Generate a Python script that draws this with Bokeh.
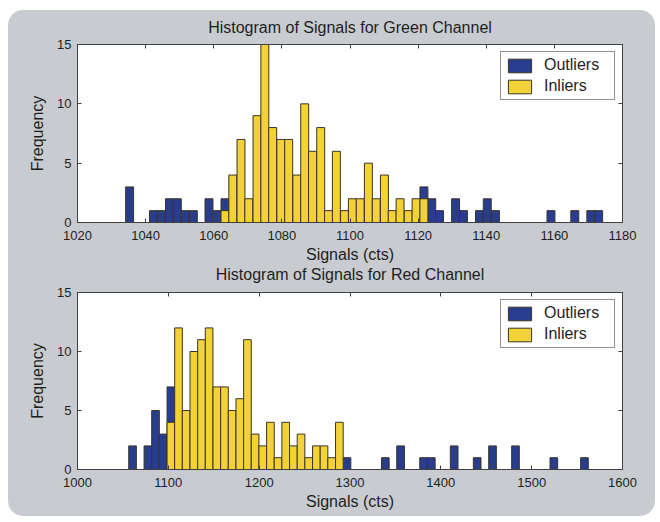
from bokeh.plotting import figure
from bokeh.models import LinearAxis, Range1d
from bokeh.layouts import column
from bokeh.embed import file_html
from bokeh.resources import INLINE

# ---------------- data ----------------
green_out_x = [1035.3, 1042.3, 1044.6, 1047.0, 1049.3, 1051.6, 1054.0, 1058.6, 1061.0, 1063.3,
               1121.7, 1124.0, 1126.3, 1131.0, 1133.3, 1138.0, 1140.3, 1142.7, 1159.0, 1166.0,
               1170.7, 1173.0]
green_out_n = [3, 1, 1, 2, 2, 1, 1, 2, 1, 2,
               3, 2, 1, 2, 1, 1, 2, 1, 1, 1,
               1, 1]
green_in_x = [1063.3, 1065.6, 1068.0, 1070.3, 1072.7, 1075.0, 1077.3, 1079.7, 1082.0, 1084.4,
              1086.7, 1089.0, 1091.4, 1093.7, 1096.0, 1098.4, 1100.7, 1103.0, 1105.4, 1107.7,
              1110.1, 1112.4, 1114.7, 1117.1, 1119.4, 1121.7]
green_in_n = [1, 4, 7, 2, 9, 15, 8, 7, 7, 4,
              10, 6, 8, 1, 6, 1, 2, 2, 5, 2,
              4, 1, 2, 1, 2, 2]

red_out_x = [1060.6, 1077.5, 1085.9, 1094.3, 1102.8, 1296.7, 1338.9, 1355.7, 1381.0, 1389.5,
             1414.7, 1440.0, 1456.9, 1482.2, 1524.4, 1558.1]
red_out_n = [2, 2, 5, 3, 7, 1, 1, 2, 1, 1,
             2, 1, 2, 2, 1, 1]
red_in_x = [1102.8, 1111.2, 1119.6, 1128.1, 1136.5, 1144.9, 1153.4, 1161.8, 1170.2, 1178.7,
            1187.1, 1195.5, 1203.9, 1212.4, 1220.8, 1229.2, 1237.7, 1246.1, 1254.5, 1263.0,
            1271.4, 1279.8, 1288.3]
red_in_n = [4, 12, 5, 10, 11, 12, 7, 7, 5, 6,
            11, 3, 2, 4, 1, 4, 2, 3, 1, 2,
            2, 1, 4]

green_xticks = [1020, 1040, 1060, 1080, 1100, 1120, 1140, 1160, 1180]
red_xticks = [1000, 1100, 1200, 1300, 1400, 1500, 1600]
y_ticks = [0, 5, 10, 15]

titles = ["Histogram of Signals for Green Channel", "Histogram of Signals for Red Channel"]
x_label = "Signals (cts)"
y_label = "Frequency"
series_names = ["Outliers", "Inliers"]

# ---------------- style ----------------
BG = "#c8ccd0"
BLUE = "#283d8e"
YELLOW = "#f2d236"
EDGE = "#3a3527"
TXT = "#1e1e1e"
FONT = "Liberation Sans"
GREEN_BIN_W = 2.335
RED_BIN_W = 8.432
W = 647


def style_axis(ax, ticks, show_labels=True):
    ax.ticker = ticks
    ax.major_tick_in = 4
    ax.major_tick_out = 0
    ax.minor_tick_line_color = None
    ax.axis_line_color = "#404040"
    ax.major_tick_line_color = "#404040"
    if show_labels:
        ax.major_label_text_font = FONT
        ax.major_label_text_font_size = "13px"
        ax.major_label_text_color = TXT
    else:
        ax.major_label_text_color = None
        ax.major_label_text_font_size = "0px"
        ax.major_label_standoff = 0


def panel(title, ox, on, ix, inn, xr, xticks, bw, h, tb, bb, t_standoff, shift):
    p = figure(width=W, height=h, x_range=Range1d(*xr), y_range=Range1d(0, 15),
               output_backend="svg", toolbar_location=None,
               min_border_left=69, min_border_right=W - 614, min_border_top=tb,
               min_border_bottom=bb,
               background_fill_color="white", border_fill_color=None,
               styles={"margin-top": shift})
    p.title.text = title
    p.title.align = "center"
    p.title.text_font = FONT
    p.title.text_font_size = "16px"
    p.title.text_font_style = "normal"
    p.title.text_color = TXT
    p.title.standoff = t_standoff
    p.xgrid.visible = False
    p.ygrid.visible = False
    p.outline_line_color = "#404040"

    p.vbar(x=ox, top=on, bottom=0, width=bw, fill_color=BLUE, line_color=EDGE, line_width=1,
           legend_label=series_names[0])
    p.vbar(x=ix, top=inn, bottom=0, width=bw, fill_color=YELLOW, line_color=EDGE, line_width=1,
           legend_label=series_names[1])

    style_axis(p.xaxis[0], xticks)
    style_axis(p.yaxis[0], y_ticks)
    p.xaxis.major_label_standoff = 8
    p.yaxis.major_label_standoff = 6
    p.xaxis.axis_label = x_label
    p.yaxis.axis_label = y_label
    for ax in (p.xaxis[0], p.yaxis[0]):
        ax.axis_label_text_font = FONT
        ax.axis_label_text_font_size = "16px"
        ax.axis_label_text_font_style = "normal"
        ax.axis_label_text_color = TXT
    p.xaxis.axis_label_standoff = 3
    p.yaxis.axis_label_standoff = 8

    top_ax = LinearAxis()
    style_axis(top_ax, xticks, show_labels=False)
    p.add_layout(top_ax, "above")
    right_ax = LinearAxis()
    style_axis(right_ax, y_ticks, show_labels=False)
    p.add_layout(right_ax, "right")

    lg = p.legend[0]
    lg.location = "top_right"
    lg.margin = 7
    lg.padding = 4
    lg.spacing = 3
    lg.glyph_width = 29
    lg.glyph_height = 17
    lg.label_height = 17
    lg.label_standoff = 10
    lg.label_width = 66
    lg.label_text_font = FONT
    lg.label_text_font_size = "16px"
    lg.label_text_color = TXT
    lg.border_line_color = "#222222"
    lg.border_line_width = 1
    lg.background_fill_color = "white"
    lg.background_fill_alpha = 1
    return p


p1 = panel(titles[0], green_out_x, green_out_n, green_in_x, green_in_n,
           (1020, 1180), green_xticks, GREEN_BIN_W, 261, 37, 46, 18, "-3px")
p2 = panel(titles[1], red_out_x, red_out_n, red_in_x, red_in_n,
           (1000, 1600), red_xticks, RED_BIN_W, 262, 38, 47, 19, "-14px")

layout = column(p1, p2, styles={"border-radius": "15px", "overflow": "hidden",
                                "background-color": BG, "margin-left": "8px",
                                "margin-top": "10px"})

open("out.html", "w").write(file_html(layout, INLINE))
